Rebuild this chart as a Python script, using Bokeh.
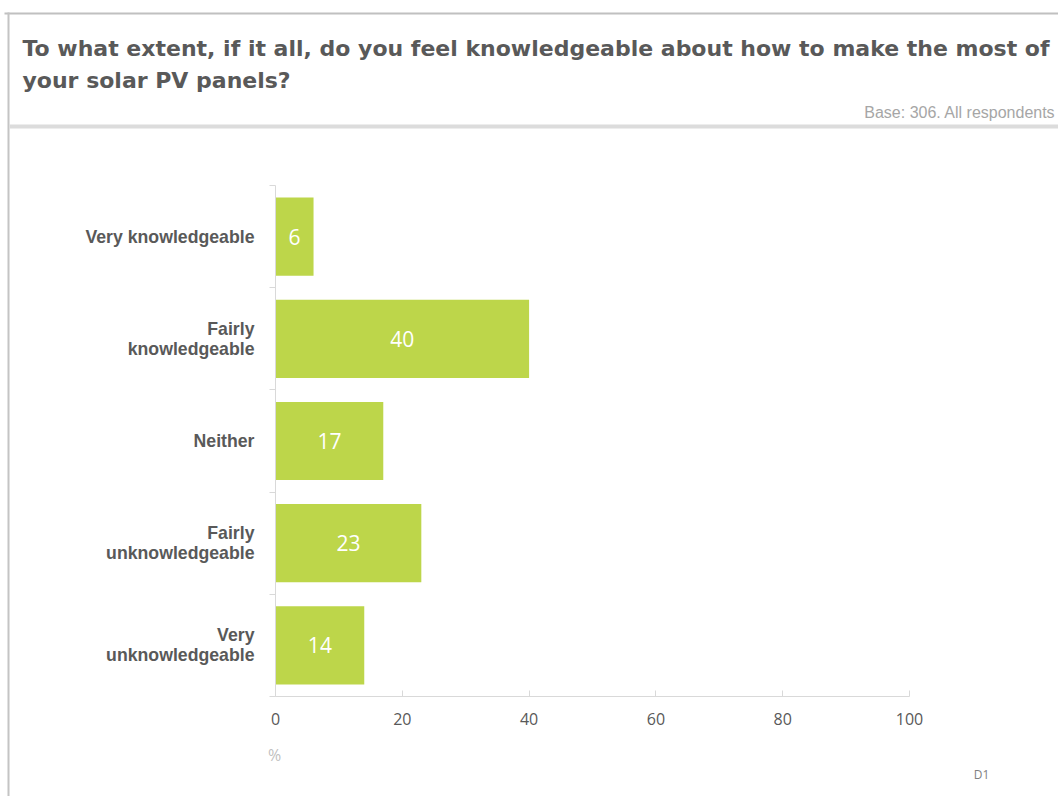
from bokeh.plotting import figure
from bokeh.models import Range1d, FixedTicker, LinearAxis, Label, BoxAnnotation, ColumnDataSource
from bokeh.core.properties import value
from bokeh.embed import file_html
from bokeh.resources import INLINE

# ---- data ----
categories = ["Very knowledgeable", "Fairly knowledgeable", "Neither",
              "Fairly unknowledgeable", "Very unknowledgeable"]
category_labels = ["Very knowledgeable", "Fairly\nknowledgeable", "Neither",
                   "Fairly\nunknowledgeable", "Very\nunknowledgeable"]
percent = [6, 40, 17, 23, 14]
x_ticks = [0, 20, 40, 60, 80, 100]

title_line1 = "To what extent, if it all, do you feel knowledgeable about how to make the most of"
title_line2 = "your solar PV panels?"
base_text = "Base: 306. All respondents"
unit_text = "%"
code_text = "D1"

n = len(categories)
ypos = [n - i - 0.5 for i in range(n)]
src = ColumnDataSource(dict(
    cat=categories, y=ypos, pct=percent,
    mid=[v / 2 for v in percent], txt=[str(v) for v in percent]))

# ---- layout geometry (canvas px) ----
W, H = 1058, 796
X0, X100 = 275, 909      # canvas px of 0 % and 100 %
YB, YT = 696, 185        # canvas px of category axis bottom / top

def dx(px):
    return (px - X0) / (X100 - X0) * 100.0

def dy(py):
    return (YB - py) / (YB - YT) * n

p = figure(width=W, height=H, output_backend="svg", toolbar_location=None,
           x_range=Range1d(dx(0), dx(W)), y_range=Range1d(dy(H), dy(0)),
           min_border=0, x_axis_location=None, y_axis_location=None)
p.title.visible = False
p.outline_line_color = None
p.xgrid.visible = False
p.ygrid.visible = False
p.background_fill_color = "white"
p.border_fill_color = "white"

# frame / separator lines of the slide
p.add_layout(BoxAnnotation(left=dx(4), right=dx(1070), top=dy(12), bottom=dy(14),
                           fill_color="#c0c0c0", fill_alpha=1, line_color=None))
p.add_layout(BoxAnnotation(left=dx(7), right=dx(9), top=dy(12), bottom=dy(810),
                           fill_color="#c4c4c4", fill_alpha=1, line_color=None))
p.add_layout(BoxAnnotation(left=dx(9), right=dx(1070), top=dy(124), bottom=dy(128),
                           fill_color="#dcdcdc", fill_alpha=1, line_color=None))

# axes
xaxis = LinearAxis(ticker=FixedTicker(ticks=x_ticks, minor_ticks=[]),
                   fixed_location=0, bounds=(0, 100))
xaxis.axis_line_color = "#d9d9d9"
xaxis.major_tick_line_color = "#d9d9d9"
xaxis.major_tick_in = 6
xaxis.major_tick_out = 0
xaxis.minor_tick_line_color = None
xaxis.major_label_text_font = "Open Sans"
xaxis.major_label_text_font_size = "16px"
xaxis.major_label_text_color = "#595959"
xaxis.major_label_standoff = 16
p.add_layout(xaxis, "below")

yaxis = LinearAxis(ticker=FixedTicker(ticks=ypos, minor_ticks=list(range(n + 1))),
                   fixed_location=0, bounds=(0, n))
yaxis.major_label_overrides = {y: lab for y, lab in zip(ypos, category_labels)}
yaxis.axis_line_color = "#d9d9d9"
yaxis.major_tick_line_color = None
yaxis.major_tick_in = 0
yaxis.major_tick_out = 0
yaxis.minor_tick_line_color = "#d9d9d9"
yaxis.minor_tick_in = 0
yaxis.minor_tick_out = 6
yaxis.major_label_text_font = "Liberation Sans"
yaxis.major_label_text_font_style = "bold"
yaxis.major_label_text_font_size = "17.7px"
yaxis.major_label_text_color = "#595959"
yaxis.major_label_text_line_height = 1.0
yaxis.major_label_standoff = 15
p.add_layout(yaxis, "left")

# bars and value labels
p.hbar(y="y", left=0, right="pct", height=0.765, source=src,
       fill_color="#bdd64a", line_color=None)
p.text(x="mid", y="y", text="txt", source=src, text_color="white",
       text_font=value("Open Sans"), text_font_size="21px",
       text_align="center", text_baseline="middle")

# texts
for txt, yy in ((title_line1, 48), (title_line2, 80)):
    p.add_layout(Label(x=dx(22), y=dy(yy), text=txt, text_font="DejaVu Sans",
                       text_font_style="bold", text_font_size="22px",
                       text_color="#595959", text_align="left",
                       text_baseline="middle"))
p.add_layout(Label(x=dx(1055), y=dy(112), text=base_text, text_font="Liberation Sans",
                   text_font_size="16px", text_color="#a6a6a6",
                   text_align="right", text_baseline="middle"))
p.add_layout(Label(x=dx(274), y=dy(754), text=unit_text, text_font="Open Sans",
                   text_font_size="16px", text_color="#bfbfbf",
                   text_align="center", text_baseline="middle"))
p.add_layout(Label(x=dx(981), y=dy(774), text=code_text, text_font="Open Sans",
                   text_font_size="12px", text_color="#7f7f7f",
                   text_align="center", text_baseline="middle"))

open("out.html", "w").write(file_html(p, INLINE))
